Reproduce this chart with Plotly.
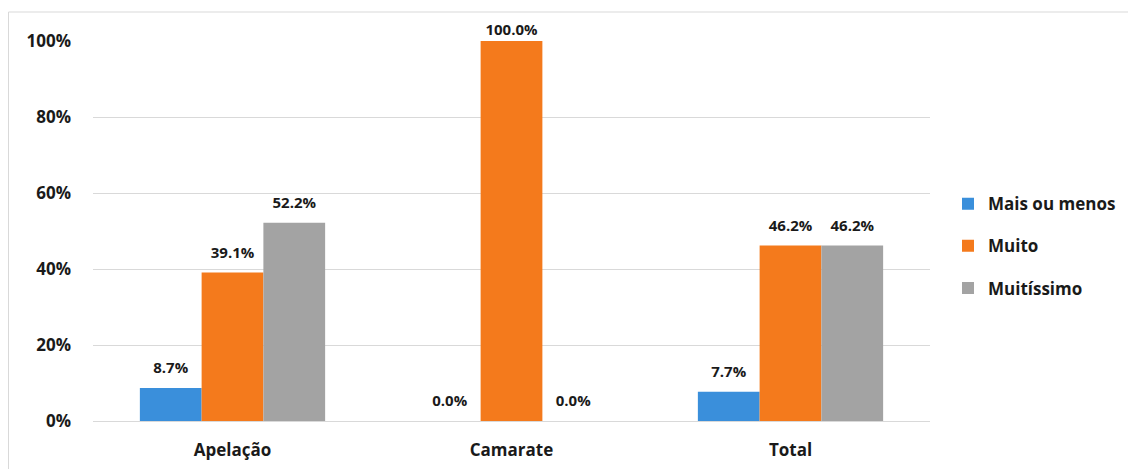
import plotly.graph_objects as go

categories = ["Apelação", "Camarate", "Total"]
series_names = ["Mais ou menos", "Muito", "Muitíssimo"]
mais_ou_menos = [8.7, 0.0, 7.7]
muito = [39.1, 100.0, 46.2]
muitissimo = [52.2, 0.0, 46.2]
tick_vals = [0, 20, 40, 60, 80, 100]
tick_text = ["0%", "20%", "40%", "60%", "80%", "100%"]

colors = ["#3A8FDB", "#F47A1C", "#A3A3A3"]

W, H = 1136, 469
L, R, T, B = 85, 214, 33, 56
font_family = "'Open Sans', Lato, sans-serif"
txt = "#1a1a1a"
GAP = 0.336

fig = go.Figure()
all_vals = [mais_ou_menos, muito, muitissimo]
for i, (name, vals, c) in enumerate(zip(series_names, all_vals, colors)):
    fig.add_trace(go.Bar(
        x=categories, y=vals, name=name, offsetgroup=str(i), legendgroup=f"g{i}",
        marker=dict(color=c, line=dict(width=0)),
        cliponaxis=False,
    ))
for i, vals in enumerate(all_vals):
    fig.add_trace(go.Scatter(
        x=categories, y=vals, offsetgroup=str(i), mode="markers+text",
        # invisible spacer marker lifts the label off the bar top (less room at the top edge)
        marker=dict(size=[16 if v < 95 else 2 for v in vals], opacity=0),
        showlegend=False, hoverinfo="skip",
        text=[f"{v:.1f}%" for v in vals], textposition="top center",
        textfont=dict(family=font_family, size=15, color=txt, weight="bold"),
        cliponaxis=False,
    ))

pw = W - L - R
ph = H - T - B
fig.add_shape(type="rect", xref="paper", yref="paper",
              x0=(0.5 - L) / pw, x1=(W + 10 - L) / pw,
              y0=(H - B - (H + 10)) / ph, y1=(H - B - 4) / ph,
              line=dict(color="#D9D9D9", width=1), fillcolor="rgba(0,0,0,0)", layer="below")

fig.update_layout(
    width=W, height=H,
    margin=dict(l=L, r=R, t=T, b=B),
    paper_bgcolor="white", plot_bgcolor="white",
    barmode="group", bargap=GAP, bargroupgap=0,
    scattermode="group", scattergap=GAP,
    font=dict(family=font_family, size=15, color=txt, weight="bold"),
    xaxis=dict(showgrid=False, showline=True, linecolor="#D9D9D9", linewidth=1,
               ticks="", tickfont=dict(family=font_family, size=17, color=txt, weight="bold")),
    yaxis=dict(range=[0, 100], tickvals=tick_vals, ticktext=tick_text,
               showgrid=True, gridcolor="#D9D9D9", gridwidth=1, zeroline=False,
               ticks="", ticklen=0, tickfont=dict(family=font_family, size=17, color=txt, weight="bold")),
    legend=dict(x=(948 - 8 - L) / pw, y=0.46, xanchor="left", yanchor="middle",
                font=dict(family=font_family, size=17, color=txt, weight="bold"),
                itemwidth=30, tracegroupgap=17, bgcolor="rgba(0,0,0,0)"),
    showlegend=True,
)
fig.update_xaxes(ticklabelstandoff=14)
fig.update_yaxes(ticklabelstandoff=21)

fig.write_html("out.html")
